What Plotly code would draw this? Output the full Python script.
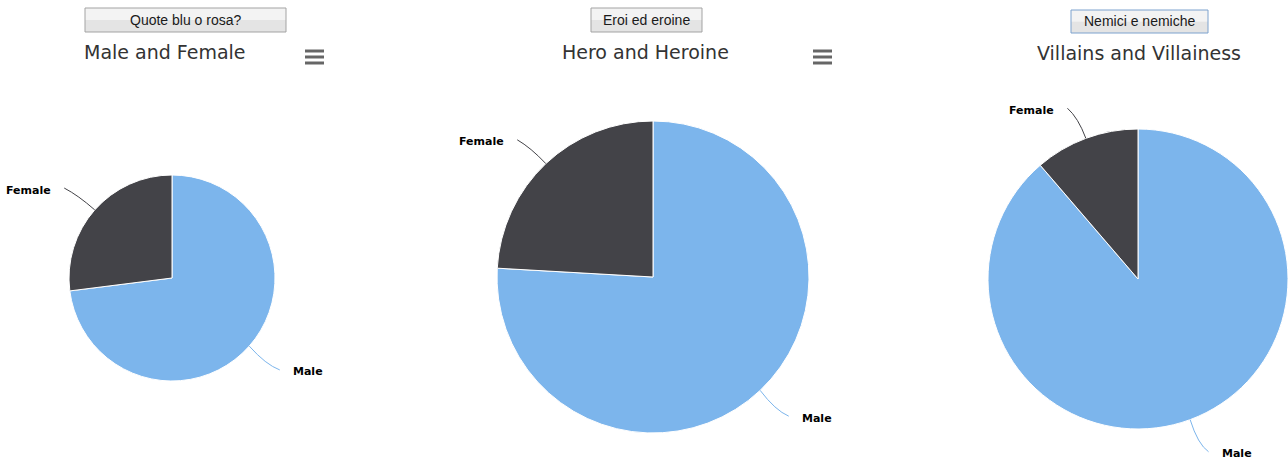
import math
import plotly.graph_objects as go

# ---------------- data ----------------
titles = ["Male and Female", "Hero and Heroine", "Villains and Villainess"]
button_labels = ["Quote blu o rosa?", "Eroi ed eroine", "Nemici e nemiche"]
slice_labels = ["Female", "Male"]
female_pct = [27.0, 24.1, 11.3]
male_pct = [73.0, 75.9, 88.7]

# ---------------- layout constants ----------------
W, H = 1288, 461
colors = {"Female": "#434348", "Male": "#7cb5ec"}
pie_geom = [(172, 278, 103), (653, 277, 156), (1138, 279, 150)]  # cx, cy, r (px)
title_pos = [(165, 52), (645, 52), (1139, 53)]
buttons = [(85, 286, 8, 32, "#a3a3a3"), (591, 702, 8, 32, "#a3a3a3"), (1071, 1208, 10, 33, "#7da2ce")]
burgers = [(305, 324, 51), (813, 832, 51)]


def px(x):
    return x / W


def py(y):
    return 1 - y / H


fig = go.Figure()
shapes = []
annotations = []

for i in range(3):
    cx, cy, r = pie_geom[i]
    vals = {"Female": female_pct[i], "Male": male_pct[i]}
    # plotly's counterclockwise layout: first slice ends at 12 o'clock, next one starts there going left
    order = ["Male", "Female"]
    fig.add_trace(go.Pie(
        labels=order,
        values=[vals[l] for l in order],
        sort=False,
        direction="counterclockwise",
        rotation=0,
        textinfo="none",
        hoverinfo="label+percent",
        marker=dict(colors=[colors[l] for l in order], line=dict(color="#ffffff", width=1)),
        domain=dict(x=[px(cx - r), px(cx + r)], y=[py(cy + r), py(cy - r)]),
        showlegend=False,
    ))

    # data labels with connectors (positions derived from the slice values)
    total = sum(vals.values())
    cum = 0.0
    for lab in slice_labels:  # Female from 12 o'clock counterclockwise, then Male
        v = vals[lab]
        mid = 2 * math.pi * (cum + v / 2) / total  # ccw from 12 o'clock
        cum += v
        dx, dy = -math.sin(mid), -math.cos(mid)
        ex, ey = cx + r * dx, cy + r * dy
        ctrlx, ctrly = cx + (r + 22) * dx, cy + (r + 22) * dy
        ax, ay = cx + (r + 30) * dx, cy + (r + 30) * dy
        if dy > 0:
            ay += 6
            ctrly += 4
        sign = 1 if dx >= 0 else -1
        endx, endy = ax + sign * 8, ay - 2
        path = "M {:.5f} {:.5f} Q {:.5f} {:.5f} {:.5f} {:.5f}".format(
            px(ex), py(ey), px(ctrlx), py(ctrly), px(endx), py(endy))
        shapes.append(dict(type="path", xref="paper", yref="paper", path=path,
                           line=dict(color=colors[lab], width=1)))
        annotations.append(dict(
            text="<b>" + lab + "</b>", xref="paper", yref="paper",
            x=px(endx + sign * 11), y=py(ay),
            xanchor="left" if sign > 0 else "right", yanchor="middle",
            showarrow=False, font=dict(family="DejaVu Sans", size=11, color="#000000")))

    # title
    tx, ty = title_pos[i]
    annotations.append(dict(text=titles[i], xref="paper", yref="paper", x=px(tx), y=py(ty),
                            xanchor="center", yanchor="middle", showarrow=False,
                            font=dict(family="DejaVu Sans", size=19, color="#333333")))

    # button
    x0, x1, y0, y1, bc = buttons[i]
    ym = (y0 + y1) / 2
    shapes.append(dict(type="rect", xref="paper", yref="paper", x0=px(x0), x1=px(x1), y0=py(ym), y1=py(y0),
                       fillcolor="#f3f3f3", line=dict(width=0), layer="below"))
    shapes.append(dict(type="rect", xref="paper", yref="paper", x0=px(x0), x1=px(x1), y0=py(y1), y1=py(ym),
                       fillcolor="#e4e4e4", line=dict(width=0), layer="below"))
    shapes.append(dict(type="rect", xref="paper", yref="paper", x0=px(x0), x1=px(x1), y0=py(y1), y1=py(y0),
                       fillcolor="rgba(0,0,0,0)", line=dict(color=bc, width=1)))
    annotations.append(dict(text=button_labels[i], xref="paper", yref="paper", x=px((x0 + x1) / 2), y=py(ym),
                            xanchor="center", yanchor="middle", showarrow=False,
                            font=dict(family="Liberation Sans, Arial", size=14, color="#1a1a1a")))

# hamburger menu icons
for bx0, bx1, by in burgers:
    for k in range(3):
        yy = by + 6 * k
        shapes.append(dict(type="line", xref="paper", yref="paper", x0=px(bx0), x1=px(bx1),
                           y0=py(yy), y1=py(yy), line=dict(color="#666666", width=3)))

fig.update_layout(
    width=W, height=H,
    margin=dict(l=0, r=0, t=0, b=0),
    paper_bgcolor="#ffffff",
    plot_bgcolor="#ffffff",
    shapes=shapes,
    annotations=annotations,
    showlegend=False,
)

fig.write_html(
    "out.html",
    config={"displayModeBar": False},
    post_script="document.body.style.margin='0px';document.body.style.overflow='hidden';",
)
